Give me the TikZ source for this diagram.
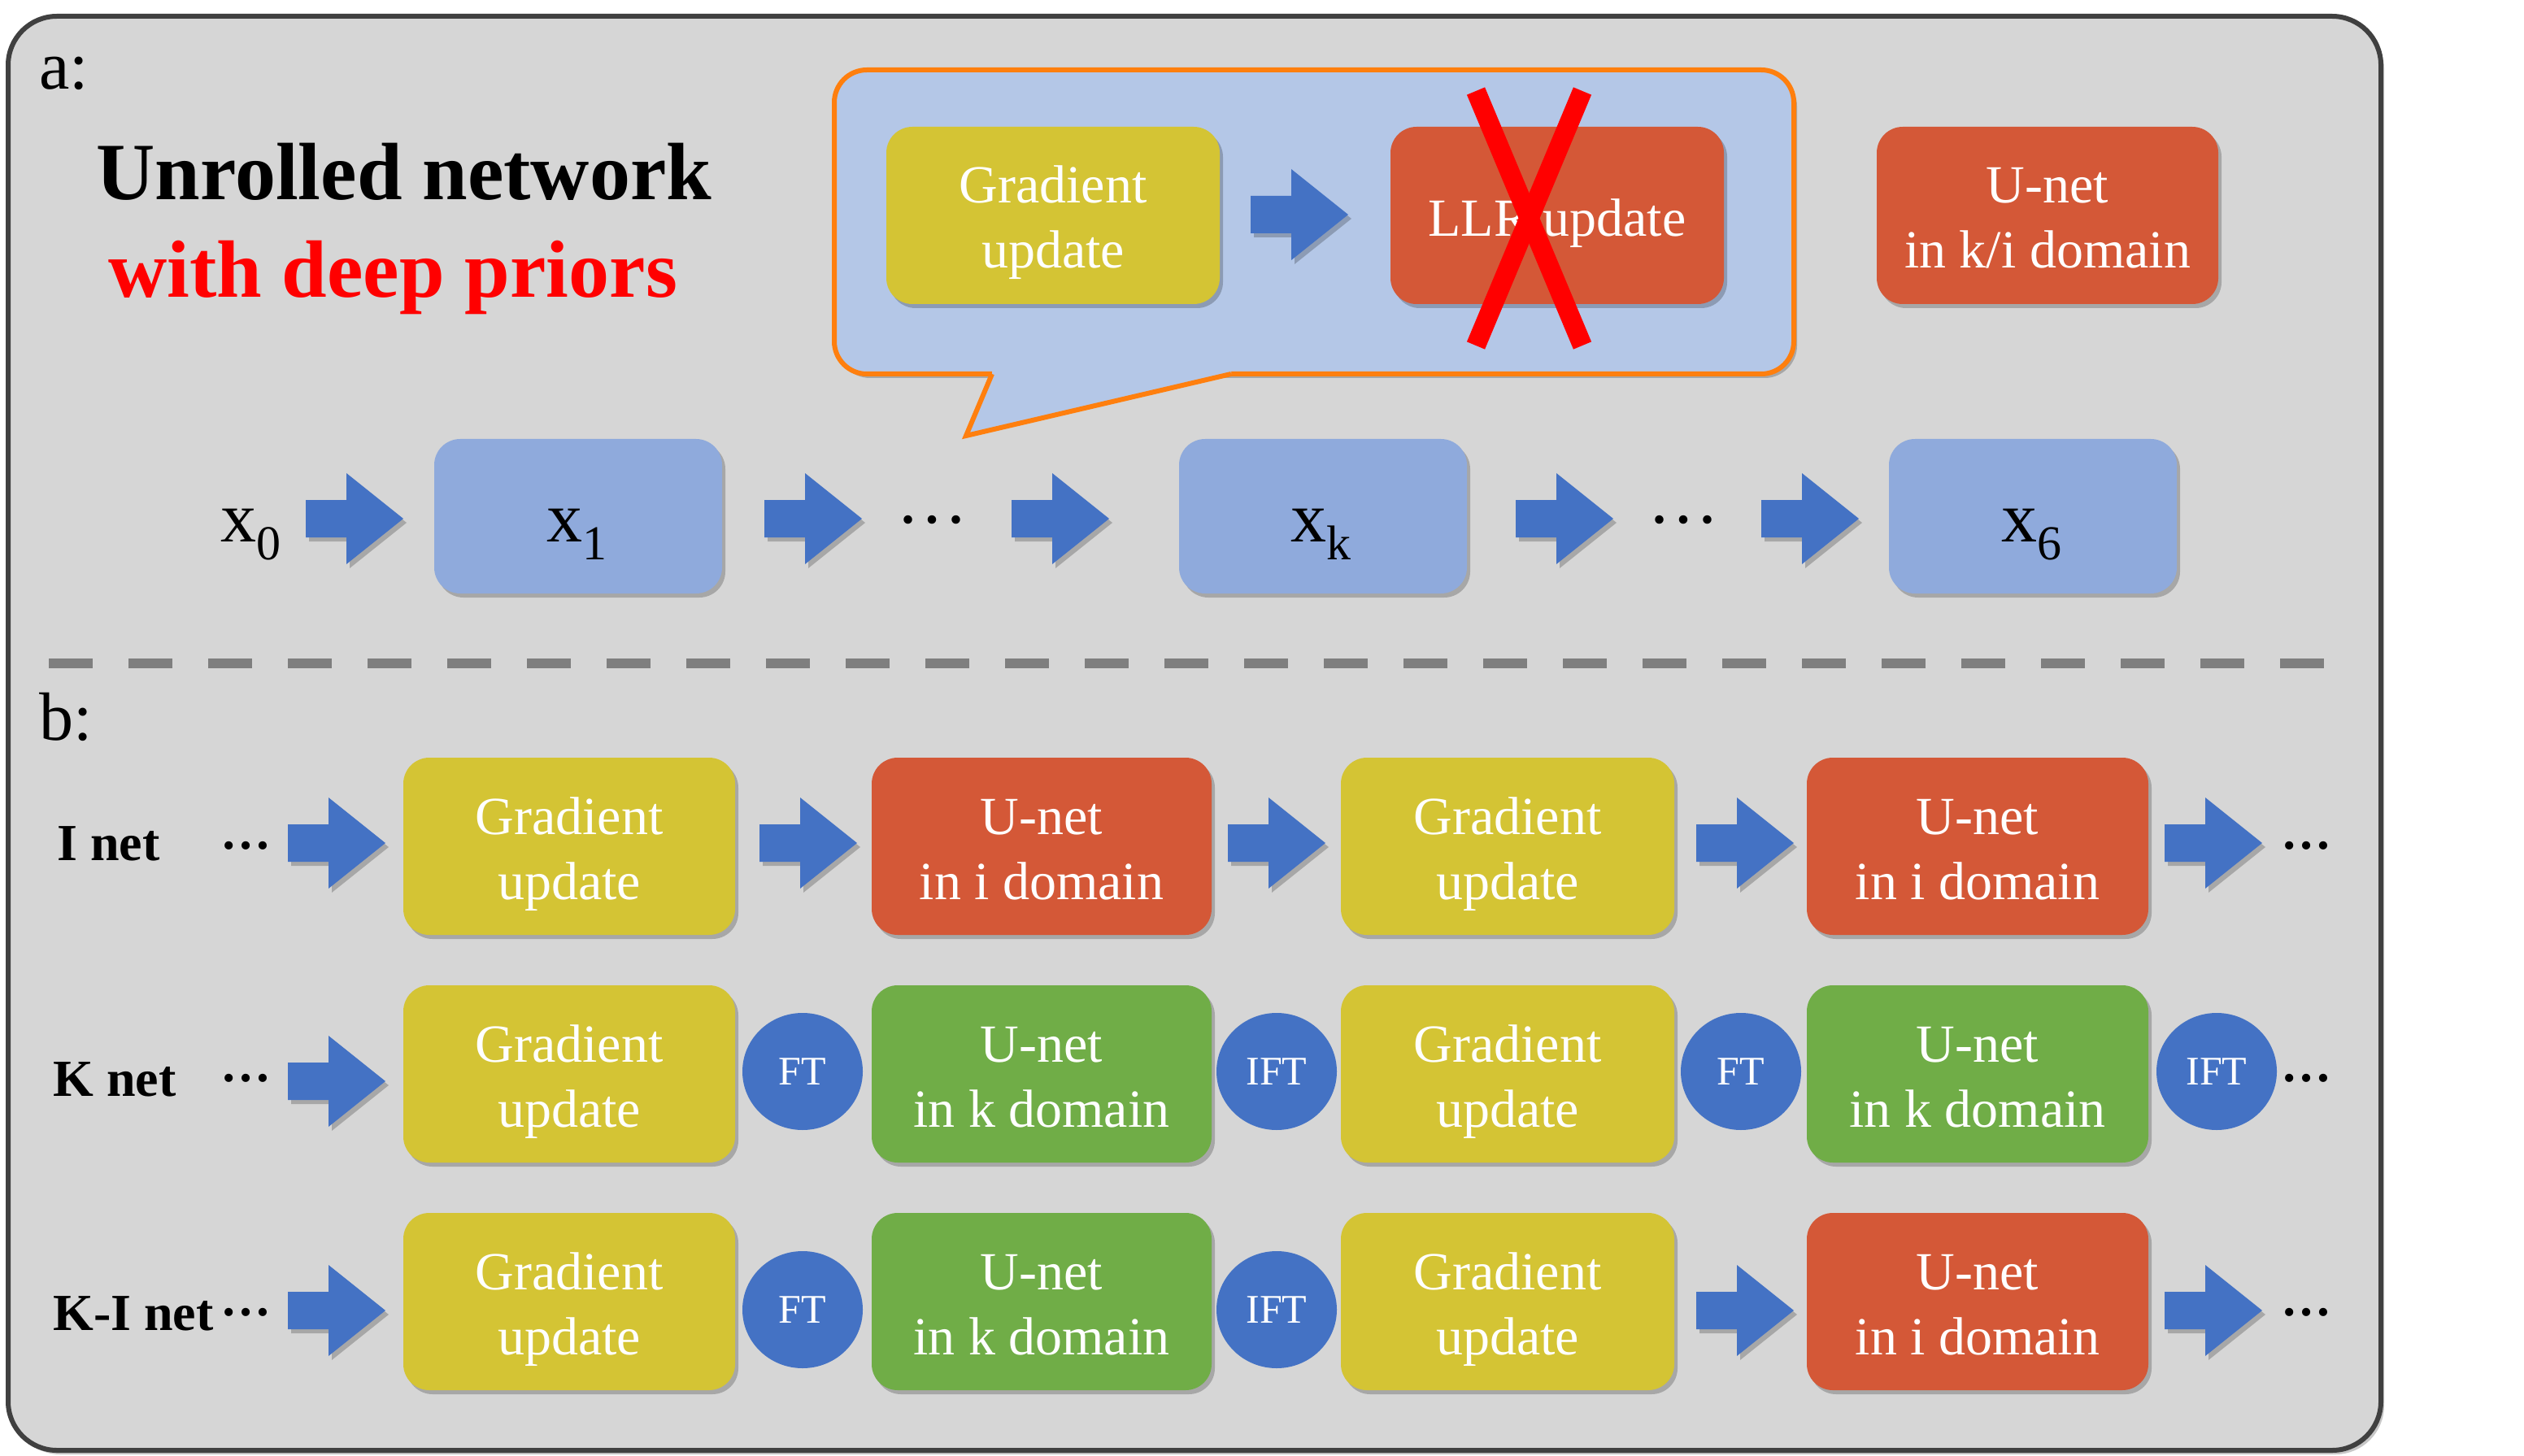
\documentclass[tikz,border=0pt]{standalone}
\usepackage{fontspec}
\setmainfont{Liberation Serif}
\usetikzlibrary{shadows,shapes.geometric}
\definecolor{framefill}{HTML}{D6D6D6}
\definecolor{framedraw}{HTML}{404040}
\definecolor{goldbox}{HTML}{D4C434}
\definecolor{redbox}{HTML}{D45837}
\definecolor{greenbox}{HTML}{70AD47}
\definecolor{arrowblue}{HTML}{4472C4}
\definecolor{lightbluebox}{HTML}{8FAADC}
\definecolor{bubblefill}{HTML}{B4C7E7}
\definecolor{bubbleline}{HTML}{FF7F0E}
\definecolor{dashgray}{HTML}{7F7F7F}
\definecolor{xred}{HTML}{FF0000}
\tikzset{
  shadowed/.style={drop shadow={shadow xshift=2pt,shadow yshift=-2.5pt,opacity=0.22,fill=black}},
  blockbox/.style={rounded corners=16pt, inner sep=0pt, draw=none, shadowed},
  gradbox/.style={blockbox, fill=goldbox},
  redunet/.style={blockbox, fill=redbox},
  greenunet/.style={blockbox, fill=greenbox},
  xbox/.style={blockbox, fill=lightbluebox, minimum width=177pt, minimum height=95pt},
  boxtext/.style={text=white, align=center, font=\fontsize{33}{40}\selectfont, inner sep=0pt},
  ftnode/.style={ellipse, fill=arrowblue, minimum width=74pt, minimum height=72pt, inner sep=0pt, text=white, font=\fontsize{25}{25}\selectfont},
  rowlabel/.style={font=\bfseries\fontsize{32}{32}\selectfont, anchor=base west, inner sep=0pt},
  bdots/.style={font=\bfseries\fontsize{31}{31}\selectfont, inner sep=0pt},
  adots/.style={font=\fontsize{44}{44}\selectfont, inner sep=0pt},
  xlabel/.style={anchor=base, font=\fontsize{44}{44}\selectfont, inner sep=0pt},
  blockarrow/.pic={\fill[arrowblue, shadowed] (0,-11.5) -- (25,-11.5) -- (25,-28) -- (60,0) -- (25,28) -- (25,11.5) -- (0,11.5) -- cycle;},
}
\newcommand\mkblock[7]{%
  \node[#2, minimum width=#5pt, minimum height=109pt] (#1) at (#3,#4) {};
  \node[boxtext] (#1-t) at (#3,#4+4.5) {\strut #6\\\strut #7};}
\newcommand\subx[1]{\raisebox{-11pt}{\fontsize{30}{30}\selectfont #1}}
\begin{document}
\begin{tikzpicture}[x=1pt,y=-1pt]
\useasboundingbox (0,0) rectangle (1552,895.5);
\fill[white] (0,0) rectangle (1552,895.5);
% frame
\node[draw=framedraw, fill=framefill, line width=3pt, rounded corners=30pt, minimum width=1459pt, minimum height=882pt, inner sep=0pt, shadowed] (frame) at (734.5,451) {};
% labels a, b
\node[anchor=base west, font=\fontsize{42}{42}\selectfont, inner sep=0pt] (alabel) at (24,55) {a:};
\node[anchor=base west, font=\fontsize{42}{42}\selectfont, inner sep=0pt] (blabel) at (24,455) {b:};
% title
\node[anchor=base, font=\bfseries\fontsize{50}{50}\selectfont, inner sep=0pt] (title1) at (248.5,123) {Unrolled network};
\node[anchor=base, font=\bfseries\fontsize{50}{50}\selectfont, inner sep=0pt, text=xred] (title2) at (241.5,183) {with deep priors};
% speech bubble
\node[draw=bubbleline, fill=bubblefill, line width=3pt, rounded corners=20pt, minimum width=590pt, minimum height=187pt, inner sep=0pt, shadowed] (bubble) at (808,136.5) {};
\fill[bubblefill] (610,226) -- (610,230) -- (594,268) -- (757,230) -- (757,226) -- cycle;
\draw[bubbleline, line width=3pt, line join=miter] (610,230) -- (594,268) -- (757,230);
% top blocks
\mkblock{tgrad}{gradbox}{647.5}{132.5}{205}{Gradient}{update}
\pic (tarrow) at (769,132) {blockarrow};
\node[redunet, minimum width=205pt, minimum height=109pt] (llr) at (957.5,132.5) {};
\node[boxtext] (llr-t) at (957.5,137.5) {\strut LLR update};
\draw[xred, line width=12pt] (907.5,56) -- (973,212.5);
\draw[xred, line width=12pt] (973,56) -- (907.5,212.5);
\mkblock{tunet}{redunet}{1259}{132.5}{210}{U-net}{in k/i domain}
% row a
\node[xlabel] (x0) at (154,333) {x\subx{0}};
\pic (aa1) at (188,319) {blockarrow};
\node[xbox] (x1) at (355.5,317.5) {};
\node[xlabel] (x1-t) at (354.5,333) {x\subx{1}};
\pic (aa2) at (470,319) {blockarrow};
\node[adots] (adots1) at (573,320) {…};
\pic (aa3) at (622,319) {blockarrow};
\node[xbox] (xk) at (813.5,317.5) {};
\node[xlabel] (xk-t) at (812,333) {x\subx{k}};
\pic (aa4) at (932,319) {blockarrow};
\node[adots] (adots2) at (1035,320) {…};
\pic (aa5) at (1083,319) {blockarrow};
\node[xbox] (x6) at (1250,317.5) {};
\node[xlabel] (x6-t) at (1249,333) {x\subx{6}};
% dashed separator
\coordinate (dl) at (30,408);
\coordinate (dr) at (1429,408);
\draw[dashgray, line width=6pt, dash pattern=on 27pt off 22pt] (dl) -- (dr);
% row I
\node[rowlabel] (inet) at (35,529) {I net};
\node[bdots] (idots1) at (151,520) {…};
\pic (ia1) at (177,518.5) {blockarrow};
\mkblock{ig1}{gradbox}{350}{520.5}{204}{Gradient}{update}
\pic (ia2) at (467,518.5) {blockarrow};
\mkblock{iu1}{redunet}{640.5}{520.5}{209}{U-net}{in i domain}
\pic (ia3) at (755,518.5) {blockarrow};
\mkblock{ig2}{gradbox}{927}{520.5}{205}{Gradient}{update}
\pic (ia4) at (1043,518.5) {blockarrow};
\mkblock{iu2}{redunet}{1216}{520.5}{210}{U-net}{in i domain}
\pic (ia5) at (1331,518.5) {blockarrow};
\node[bdots] (idots2) at (1418,520) {…};
% row K
\node[rowlabel] (knet) at (32.5,674) {K net};
\node[bdots] (kdots1) at (151,663) {…};
\pic (ka1) at (177,665) {blockarrow};
\mkblock{kg1}{gradbox}{350}{660.5}{204}{Gradient}{update}
\node[ftnode] (kft1) at (493.5,659) {FT};
\mkblock{ku1}{greenunet}{640.5}{660.5}{209}{U-net}{in k domain}
\node[ftnode] (kift1) at (785,659) {IFT};
\mkblock{kg2}{gradbox}{927}{660.5}{205}{Gradient}{update}
\node[ftnode] (kft2) at (1070.5,659) {FT};
\mkblock{ku2}{greenunet}{1216}{660.5}{210}{U-net}{in k domain}
\node[ftnode] (kift2) at (1363,659) {IFT};
\node[bdots] (kdots2) at (1418,663) {…};
% row K-I
\node[rowlabel] (kinet) at (32.5,818) {K-I net};
\node[bdots] (kidots1) at (151,807) {…};
\pic (kia1) at (177,806) {blockarrow};
\mkblock{kig1}{gradbox}{350}{800.5}{204}{Gradient}{update}
\node[ftnode] (kift) at (493.5,805.5) {FT};
\mkblock{kiu1}{greenunet}{640.5}{800.5}{209}{U-net}{in k domain}
\node[ftnode] (kiift) at (785,805.5) {IFT};
\mkblock{kig2}{gradbox}{927}{800.5}{205}{Gradient}{update}
\pic (kia2) at (1043,806) {blockarrow};
\mkblock{kiu2}{redunet}{1216}{800.5}{210}{U-net}{in i domain}
\pic (kia3) at (1331,806) {blockarrow};
\node[bdots] (kidots2) at (1418,807) {…};
\end{tikzpicture}
\end{document}
